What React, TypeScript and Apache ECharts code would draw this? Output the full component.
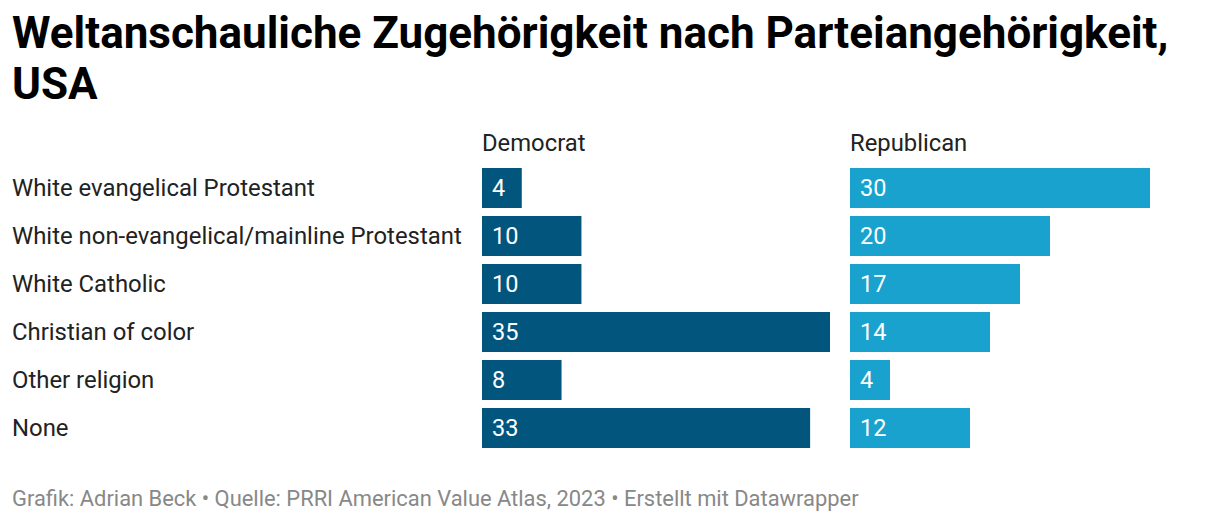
import React, { useEffect, useRef } from "react";
import * as echarts from "echarts";

const categories = [
  "White evangelical Protestant",
  "White non-evangelical/mainline Protestant",
  "White Catholic",
  "Christian of color",
  "Other religion",
  "None",
];
const democrat = [4, 10, 10, 35, 8, 33];
const republican = [30, 20, 17, 14, 4, 12];
const panelTitles = ["Democrat", "Republican"];
const title = "Weltanschauliche Zugehörigkeit nach Parteiangehörigkeit,\nUSA";
const footer = "Grafik: Adrian Beck • Quelle: PRRI American Value Atlas, 2023 • Erstellt mit Datawrapper";

const FONT = "Roboto, 'Noto Sans', sans-serif";

export default function App() {
  const ref = useRef<HTMLDivElement>(null);
  useEffect(() => {
    document.body.style.margin = "0";
    const chart = echarts.init(ref.current!, null, { renderer: "svg" });
    const valueLabel = {
      show: true,
      position: "insideLeft" as const,
      distance: 10,
      color: "#ffffff",
      fontSize: 23.5,
      fontFamily: FONT,
    };
    chart.setOption({
      animation: false,
      backgroundColor: "#ffffff",
      title: {
        text: title,
        left: 12,
        top: 7.5,
        padding: 0,
        textStyle: {
          fontFamily: FONT,
          fontWeight: "bold",
          fontSize: 44,
          lineHeight: 51,
          color: "#000000",
        },
      },
      graphic: [
        {
          type: "text",
          left: 482,
          top: 131,
          style: { text: panelTitles[0], fontFamily: FONT, fontSize: 23.8, fill: "#222222" },
        },
        {
          type: "text",
          left: 850,
          top: 131,
          style: { text: panelTitles[1], fontFamily: FONT, fontSize: 23.8, fill: "#222222" },
        },
        {
          type: "text",
          left: 12,
          top: 487,
          style: { text: footer, fontFamily: FONT, fontSize: 21.9, fill: "#888888" },
        },
      ],
      grid: [
        { left: 482, top: 164, width: 348, height: 288 },
        { left: 850, top: 164, width: 350, height: 288 },
      ],
      xAxis: [
        { type: "value", gridIndex: 0, min: 0, max: 35, show: false },
        { type: "value", gridIndex: 1, min: 0, max: 35, show: false },
      ],
      yAxis: [
        {
          type: "category",
          gridIndex: 0,
          data: categories,
          inverse: true,
          axisLine: { show: false },
          axisTick: { show: false },
          splitLine: { show: false },
          axisLabel: {
            align: "left",
            margin: 470,
            fontFamily: FONT,
            fontSize: 23.9,
            color: "#222222",
          },
        },
        {
          type: "category",
          gridIndex: 1,
          data: categories,
          inverse: true,
          show: false,
        },
      ],
      series: [
        {
          type: "bar",
          xAxisIndex: 0,
          yAxisIndex: 0,
          data: democrat,
          barWidth: 40,
          itemStyle: { color: "#02557d" },
          label: valueLabel,
        },
        {
          type: "bar",
          xAxisIndex: 1,
          yAxisIndex: 1,
          data: republican,
          barWidth: 40,
          itemStyle: { color: "#18a2cd" },
          label: valueLabel,
        },
      ],
    });
    return () => chart.dispose();
  }, []);
  return <div ref={ref} style={{ width: 1220, height: 524 }} />;
}
